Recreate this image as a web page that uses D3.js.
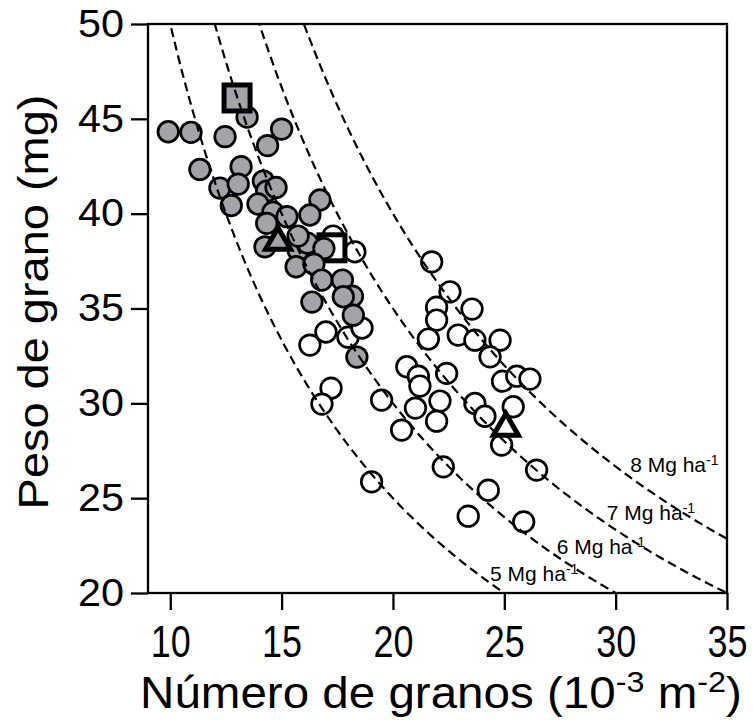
<!DOCTYPE html>
<html>
<head>
<meta charset="utf-8">
<script src="https://cdn.jsdelivr.net/npm/d3@7"></script>
<style>
  body { margin: 0; background: #fff; }
  svg { display: block; }
  text { font-family: "Liberation Sans", Arial, sans-serif; fill: #000; }
</style>
</head>
<body>
<div id="chart"></div>
<script>
// grain number (10^3 m-2) and grain weight (mg)
const grayN = [9.91, 10.93, 12.46, 13.45, 15.00, 14.37, 11.33, 13.18, 12.23, 13.05, 12.74, 14.18,
               14.33, 14.75, 16.72, 13.94, 14.61, 15.24, 16.27, 14.33, 14.25, 15.74, 16.16, 16.90,
               15.65, 16.45, 16.80, 17.73, 18.18, 17.77, 16.36, 18.22, 18.38, 15.74];
const grayW = [44.32, 44.29, 44.06, 45.09, 44.46, 43.59, 42.33, 42.48, 41.35, 41.56, 40.43, 41.72,
               41.19, 41.38, 40.72, 40.51, 40.08, 39.84, 39.93, 39.49, 38.25, 38.08, 38.45, 38.16,
               37.20, 37.34, 36.50, 36.50, 35.65, 35.62, 35.34, 34.65, 32.44, 38.82];

const whiteN = [17.31, 18.29, 16.27, 16.99, 17.98, 18.61, 17.22, 16.81, 21.74, 22.56, 21.96, 21.96,
                23.55, 21.59, 22.93, 23.68, 24.81, 24.36, 20.62, 21.14, 21.21, 22.41, 24.92, 25.56,
                26.15, 19.49, 21.01, 22.11, 21.96, 20.39, 23.68, 24.13, 25.40, 24.88, 22.26, 26.45,
                19.04, 24.28, 23.38, 25.87];
const whiteW = [38.82, 37.99, 33.07, 33.76, 33.49, 33.97, 30.80, 29.96, 37.46, 35.88, 35.07, 34.39,
                34.97, 33.39, 33.60, 33.33, 33.33, 32.45, 31.93, 31.43, 30.91, 31.58, 31.17, 31.43,
                31.28, 30.17, 29.75, 30.12, 29.06, 28.59, 29.99, 29.32, 29.82, 27.80, 26.65, 26.48,
                25.86, 25.42, 24.05, 23.75];

// group means: [gray, white]
const squareN = [13.0, 17.26];
const squareW = [46.1, 38.2];
const triN = [14.84, 25.07];
const triW = [38.5, 28.7];

const yields = [5, 6, 7, 8];            // Mg ha-1
const xTicks = [10, 15, 20, 25, 30, 35];
const yTicks = [20, 25, 30, 35, 40, 45, 50];

// where each isoline label starts (data units)
const labelN = [24.36, 27.35, 29.60, 30.65];
const labelW = [20.62, 22.05, 23.84, 26.37];

const W = 753, H = 720;
const GRAY = "#a3a3a8";

const svg = d3.select("#chart").append("svg")
    .attr("width", W)
    .attr("height", H);

const x = d3.scaleLinear().domain([9, 35]).range([148, 727]);
const y = d3.scaleLinear().domain([20, 50]).range([593, 24]);

svg.append("clipPath").attr("id", "plot")
    .append("rect")
    .attr("x", x(9)).attr("y", y(50))
    .attr("width", x(35) - x(9)).attr("height", y(20) - y(50));

// axes
const yAxis = svg.append("g")
    .attr("transform", `translate(${x(9)},0)`)
    .call(d3.axisLeft(y).tickValues(yTicks).tickSize(17).tickPadding(7).tickSizeOuter(0));
yAxis.select(".domain").remove();
yAxis.selectAll("line").attr("stroke-width", 2.3);
yAxis.selectAll("text")
    .style("font-size", "38px")
    .attr("textLength", 46)
    .attr("lengthAdjust", "spacingAndGlyphs");

const xAxis = svg.append("g")
    .attr("transform", `translate(0,${y(20)})`)
    .call(d3.axisBottom(x).tickValues(xTicks).tickSize(17).tickPadding(15).tickSizeOuter(0));
xAxis.select(".domain").remove();
xAxis.selectAll("line").attr("stroke-width", 2.3);
xAxis.selectAll("text")
    .style("font-size", "45px")
    .attr("textLength", 40)
    .attr("lengthAdjust", "spacingAndGlyphs");

svg.selectAll(".tick text").attr("fill", "#000");

// frame
svg.append("rect")
    .attr("x", x(9)).attr("y", y(50))
    .attr("width", x(35) - x(9)).attr("height", y(20) - y(50))
    .attr("fill", "none")
    .attr("stroke", "#000")
    .attr("stroke-width", 2.3);

// markers
const marks = svg.append("g");

marks.selectAll(".white")
    .data(whiteN.map((n, i) => [n, whiteW[i]]))
    .enter().append("circle")
    .attr("cx", d => x(d[0]))
    .attr("cy", d => y(d[1]))
    .attr("r", 10.3)
    .attr("fill", "#fff")
    .attr("stroke", "#000")
    .attr("stroke-width", 2.7);

function square(i, fill) {
    const s = 26;
    marks.append("rect")
        .attr("x", x(squareN[i]) - s / 2)
        .attr("y", y(squareW[i]) - s / 2)
        .attr("width", s).attr("height", s)
        .attr("fill", fill)
        .attr("stroke", "#000")
        .attr("stroke-width", 5);
}

function triangle(i, fill) {
    const s = 25, h = s * Math.sqrt(3) / 2;
    const cx = x(triN[i]), cy = y(triW[i]);
    marks.append("path")
        .attr("d", `M${cx},${cy - 2 * h / 3}L${cx + s / 2},${cy + h / 3}L${cx - s / 2},${cy + h / 3}Z`)
        .attr("fill", fill)
        .attr("stroke", "#000")
        .attr("stroke-width", 5);
}

square(1, "#fff");
triangle(1, "#fff");

marks.selectAll(".gray")
    .data(grayN.map((n, i) => [n, grayW[i]]))
    .enter().append("circle")
    .attr("cx", d => x(d[0]))
    .attr("cy", d => y(d[1]))
    .attr("r", 10.3)
    .attr("fill", GRAY)
    .attr("stroke", "#000")
    .attr("stroke-width", 2.7);

square(0, GRAY);
triangle(0, GRAY);

// isoline labels
yields.forEach((t, i) => {
    const lab = svg.append("text")
        .attr("x", x(labelN[i]))
        .attr("y", y(labelW[i]))
        .style("font-size", "21px");
    lab.append("tspan").text(`${t} Mg ha`);
    lab.append("tspan").attr("dy", -7).style("font-size", "14px").text("-1");
});

// iso-yield curves: grain weight = yield / grain number
const nGrid = d3.range(9, 35.01, 0.1);
const line = d3.line().x(d => x(d[0])).y(d => y(d[1]));
svg.append("g")
    .attr("clip-path", "url(#plot)")
    .selectAll("path")
    .data(yields)
    .enter().append("path")
    .attr("d", t => line(nGrid.map(n => [n, t * 100 / n])))
    .attr("fill", "none")
    .attr("stroke", "#000")
    .attr("stroke-width", 2.2)
    .attr("stroke-dasharray", "9,5");

// axis titles, stretched to the width they have in the figure
function fit(sel, width, base) {
    const bw = sel.node().getBBox().width;
    sel.attr("transform", `${base} scale(${width / bw},1)`);
}

const xt = svg.append("text")
    .attr("text-anchor", "middle")
    .style("font-size", "44px");
xt.append("tspan").text("Número de granos (10");
xt.append("tspan").attr("dy", -16).style("font-size", "30px").text("-3");
xt.append("tspan").attr("dy", 16).text(" m");
xt.append("tspan").attr("dy", -16).style("font-size", "30px").text("-2");
xt.append("tspan").attr("dy", 16).text(")");
fit(xt, 602, "translate(441,708)");

const yt = svg.append("text")
    .attr("text-anchor", "middle")
    .style("font-size", "42px")
    .text("Peso de grano (mg)");
fit(yt, 415, "translate(48,302) rotate(-90)");
</script>
</body>
</html>
